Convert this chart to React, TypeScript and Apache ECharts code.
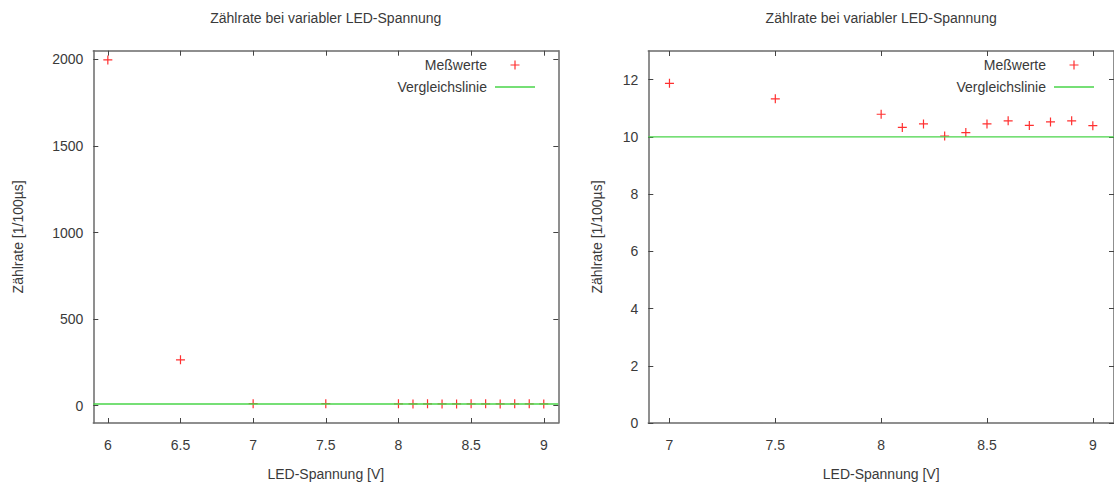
import React, { useEffect, useRef } from "react";
import * as echarts from "echarts";

// Measured count rate per LED voltage
const voltages = [6, 6.5, 7, 7.5, 8, 8.1, 8.2, 8.3, 8.4, 8.5, 8.6, 8.7, 8.8, 8.9, 9.0];
const countRates = [1997, 265, 11.87, 11.33, 10.79, 10.33, 10.45, 10.03, 10.15, 10.45, 10.56, 10.4, 10.52, 10.56, 10.39];
const referenceRate = 10;

// Axis ranges and ticks: full view (left) and zoomed view (right)
const fullXRange = [5.9, 9.1];
const fullYRange = [-100, 2050];
const fullXTicks = [6, 6.5, 7, 7.5, 8, 8.5, 9];
const fullYTicks = [0, 500, 1000, 1500, 2000];

const zoomXRange = [6.9, 9.1];
const zoomYRange = [0, 13];
const zoomXTicks = [7, 7.5, 8, 8.5, 9];
const zoomYTicks = [0, 2, 4, 6, 8, 10, 12];

const TITLE = "Zählrate bei variabler LED-Spannung";
const X_NAME = "LED-Spannung [V]";
const Y_NAME = "Zählrate [1/100µs]";
const NAME_POINTS = "Meßwerte";
const NAME_LINE = "Vergleichslinie";

const FONT = "'Liberation Sans', Arial, Helvetica, sans-serif";
const FS = 14;
const TEXT = "#3a3a3a";
const FRAME = "#6a6a6a";
const RED = "#ff3030";
const GREEN = "#48d448";
const PLUS = "path://M3.9,0H5.1V3.9H9V5.1H5.1V9H3.9V5.1H0V3.9H3.9Z";
const LINE_ICON = "path://M0,0H40V1.4H0Z";

const fmt = (v: number) => String(v);

function axisPair(
  range: number[],
  ticks: number[],
  gridIndex: number,
  kind: "x" | "y",
  name: string,
  nameGap: number,
  mirrorName: string | null
) {
  const lineStyle = { color: FRAME, width: 1.5 };
  const tick = { show: true, inside: true, length: 5, customValues: ticks, lineStyle: { color: "#444", width: 1 } };
  const main: any = {
    type: "value",
    gridIndex,
    min: range[0],
    max: range[1],
    position: kind === "x" ? "bottom" : "left",
    name,
    nameLocation: "middle",
    nameGap,
    nameTextStyle: { fontFamily: FONT, fontSize: FS, color: TEXT },
    axisLine: { show: true, onZero: false, lineStyle },
    axisTick: tick,
    axisLabel: {
      customValues: ticks,
      formatter: fmt,
      fontFamily: FONT,
      fontSize: FS,
      color: TEXT,
      margin: kind === "x" ? 15 : 10,
    },
    splitLine: { show: false },
  };
  const mirror: any = {
    type: "value",
    gridIndex,
    min: range[0],
    max: range[1],
    position: kind === "x" ? "top" : "right",
    axisLine: { show: true, onZero: false, lineStyle },
    axisTick: tick,
    axisLabel: { show: false },
    splitLine: { show: false },
  };
  if (mirrorName) {
    mirror.name = mirrorName;
    mirror.nameLocation = "middle";
    mirror.nameGap = 26;
    mirror.nameTextStyle = { fontFamily: FONT, fontSize: FS, color: TEXT };
  }
  return [main, mirror];
}

function seriesFor(xAxisIndex: number, yAxisIndex: number, xRange: number[]) {
  return [
    {
      type: "line",
      name: NAME_LINE,
      xAxisIndex,
      yAxisIndex,
      data: [
        [xRange[0], referenceRate],
        [xRange[1], referenceRate],
      ],
      symbol: "none",
      showSymbol: false,
      lineStyle: { color: GREEN, width: 1.4 },
      itemStyle: { color: GREEN },
      silent: true,
    },
    {
      type: "scatter",
      name: NAME_POINTS,
      xAxisIndex,
      yAxisIndex,
      data: voltages.map((v, i) => [v, countRates[i]]),
      symbol: PLUS,
      symbolSize: 9,
      symbolKeepAspect: true,
      itemStyle: { color: RED, opacity: 1 },
      clip: true,
      silent: true,
    },
  ];
}

function legendAt(right: number, top: number) {
  return {
    orient: "vertical",
    align: "right",
    right,
    top,
    itemWidth: 40,
    itemHeight: 9,
    itemGap: 8,
    selectedMode: false,
    data: [
      { name: NAME_POINTS },
      { name: NAME_LINE, icon: LINE_ICON },
    ],
    textStyle: { fontFamily: FONT, fontSize: FS, color: TEXT, padding: [0, 3, 0, 0] },
  };
}

export default function App() {
  const ref = useRef<HTMLDivElement>(null);

  useEffect(() => {
    if (!ref.current) return;
    const chart = echarts.init(ref.current, null, { renderer: "svg" });

    const [fx, fxTop] = axisPair(fullXRange, fullXTicks, 0, "x", X_NAME, 44, TITLE);
    const [fy, fyRight] = axisPair(fullYRange, fullYTicks, 0, "y", Y_NAME, 68, null);
    const [zx, zxTop] = axisPair(zoomXRange, zoomXTicks, 1, "x", X_NAME, 44, TITLE);
    const [zy, zyRight] = axisPair(zoomYRange, zoomYTicks, 1, "y", Y_NAME, 44, null);

    chart.setOption({
      animation: false,
      backgroundColor: "#ffffff",
      grid: [
        { left: 93.3, top: 50.7, width: 465, height: 372.6 },
        { left: 648.3, top: 51, width: 468.4, height: 373 },
      ],
      xAxis: [fx, fxTop, zx, zxTop],
      yAxis: [fy, fyRight, zy, zyRight],
      legend: [legendAt(1114 - 540, 53), legendAt(1114 - 1099, 53)],
      series: [...seriesFor(0, 0, fullXRange), ...seriesFor(2, 2, zoomXRange)],
    });

    return () => chart.dispose();
  }, []);

  return (
    <div
      ref={ref}
      style={{ position: "absolute", left: 0, top: 0, width: 1114, height: 486 }}
    />
  );
}
